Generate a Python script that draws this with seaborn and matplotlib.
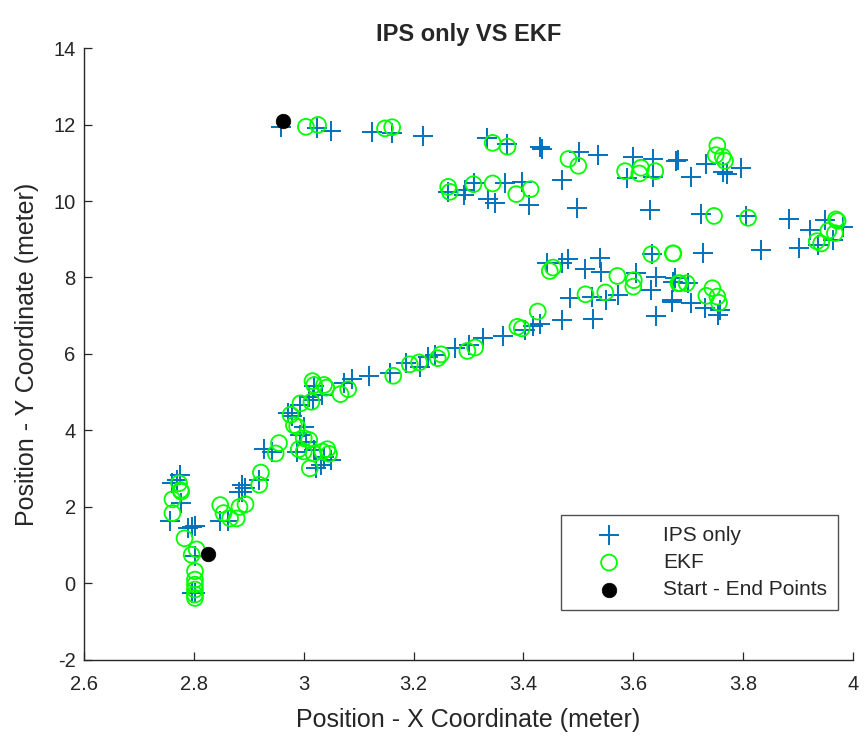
import matplotlib
matplotlib.use("Agg")
import matplotlib.pyplot as plt
import seaborn as sns
import pandas as pd

# Position estimates from the indoor positioning system alone
ips_x = [2.958, 3.024, 3.050, 3.124, 3.161, 3.217, 3.333, 3.370, 3.430, 3.433,
         3.502, 3.536, 3.600, 3.635, 3.678, 3.588, 3.636, 3.682, 3.733, 3.705,
         3.764, 3.770, 3.796, 3.263, 3.294, 3.291, 3.310, 3.366, 3.336, 3.348,
         3.397, 3.410, 3.471, 3.497, 3.630, 3.724, 3.806, 3.883, 3.922, 3.949,
         3.982, 3.964, 3.937, 3.832, 3.902, 3.727, 3.442, 3.470, 3.482, 3.512,
         3.539, 3.542, 3.605, 3.642, 3.633, 3.634, 3.676, 3.670, 3.642, 3.485,
         3.524, 3.573, 3.551, 3.527, 3.470, 3.430, 3.403, 3.418, 3.363, 3.327,
         3.300, 3.275, 3.239, 3.227, 3.187, 3.212, 3.157, 3.673, 3.700, 3.670,
         3.705, 3.730, 3.758, 3.754, 3.119, 3.088, 3.073, 3.019, 3.034, 3.010,
         2.993, 3.016, 2.971, 2.978, 3.000, 2.994, 3.004, 2.988, 3.019, 3.037,
         3.049, 3.031, 3.022, 2.928, 2.942, 2.919, 2.888, 2.882, 2.770, 2.761,
         2.775, 2.777, 2.757, 2.796, 2.802, 2.790, 2.802, 2.802, 2.796, 2.848,
         2.863, 2.893, 2.887]
ips_y = [11.94, 11.90, 11.83, 11.80, 11.78, 11.70, 11.64, 11.49, 11.42, 11.35,
         11.27, 11.20, 11.16, 11.09, 11.05, 10.59, 10.64, 11.07, 10.98, 10.64,
         10.77, 10.71, 10.87, 10.24, 10.30, 10.16, 10.46, 10.46, 10.04, 9.94,
         10.50, 9.90, 10.55, 9.81, 9.76, 9.66, 9.61, 9.53, 9.24, 9.50,
         9.33, 8.98, 8.85, 8.72, 8.78, 8.63, 8.37, 8.37, 8.48, 8.21,
         8.50, 8.15, 8.11, 8.02, 7.67, 8.61, 7.98, 7.37, 6.99, 7.46,
         7.50, 7.54, 7.41, 6.91, 6.89, 6.78, 6.63, 6.73, 6.47, 6.41,
         6.24, 6.15, 5.97, 5.93, 5.76, 5.67, 5.50, 7.89, 7.85, 7.41,
         7.34, 7.19, 7.15, 7.02, 5.42, 5.34, 5.25, 5.15, 4.93, 4.88,
         4.67, 4.80, 4.45, 4.37, 4.10, 3.88, 3.71, 3.45, 3.49, 3.31,
         3.23, 3.10, 3.01, 3.51, 3.45, 2.71, 2.58, 2.40, 2.71, 2.62,
         2.84, 2.11, 1.64, 1.47, 1.50, 1.44, 0.72, -0.24, -0.24, 1.62,
         1.64, 2.49, 2.40]

# Extended Kalman filter estimates
ekf_x = [3.004, 3.026, 3.148, 3.161, 3.344, 3.371, 3.482, 3.500, 3.585, 3.614,
         3.611, 3.640, 3.263, 3.266, 3.309, 3.344, 3.387, 3.413, 3.753, 3.750,
         3.763, 3.767, 3.747, 3.809, 3.969, 3.972, 3.955, 3.967, 3.934, 3.942,
         3.673, 3.448, 3.454, 3.571, 3.601, 3.600, 3.633, 3.672, 3.682, 3.513,
         3.549, 3.426, 3.389, 3.397, 3.312, 3.298, 3.250, 3.244, 3.210, 3.193,
         3.163, 3.685, 3.697, 3.744, 3.733, 3.753, 3.756, 3.067, 3.081, 3.016,
         3.019, 3.037, 3.041, 3.014, 2.994, 2.976, 2.982, 2.988, 3.000, 3.010,
         2.991, 3.000, 3.018, 3.034, 3.043, 3.046, 3.011, 2.955, 2.949, 2.922,
         2.919, 2.773, 2.776, 2.777, 2.761, 2.761, 2.783, 2.805, 2.796, 2.802,
         2.802, 2.802, 2.802, 2.802, 2.802, 2.848, 2.854, 2.866, 2.878, 2.883,
         2.894]
ekf_y = [11.94, 11.99, 11.90, 11.93, 11.52, 11.42, 11.10, 10.92, 10.78, 10.87,
         10.72, 10.78, 10.37, 10.24, 10.44, 10.46, 10.18, 10.31, 11.45, 11.20,
         11.16, 11.05, 9.61, 9.56, 9.52, 9.48, 9.22, 9.16, 8.95, 8.89,
         8.63, 8.17, 8.26, 8.04, 7.93, 7.76, 8.61, 8.63, 7.85, 7.56,
         7.61, 7.11, 6.71, 6.67, 6.17, 6.08, 5.99, 5.89, 5.78, 5.73,
         5.43, 7.85, 7.85, 7.72, 7.52, 7.50, 7.34, 4.95, 5.08, 5.29,
         5.19, 5.19, 5.12, 4.75, 4.71, 4.41, 4.14, 4.10, 3.80, 3.75,
         3.51, 3.45, 3.40, 3.45, 3.51, 3.39, 3.01, 3.67, 3.40, 2.90,
         2.58, 2.62, 2.44, 2.40, 2.20, 1.84, 1.18, 0.89, 0.75, 0.32,
         0.10, -0.03, -0.16, -0.29, -0.38, 2.05, 1.84, 1.70, 1.70, 2.00,
         2.07]

# First and last positions of the walk
se_x = [2.962, 2.825]
se_y = [12.09, 0.76]

ips = pd.DataFrame({"x": ips_x, "y": ips_y})
ekf = pd.DataFrame({"x": ekf_x, "y": ekf_y})
se = pd.DataFrame({"x": se_x, "y": se_y})

sns.set_theme(style="white")
plt.rcParams["font.family"] = ["Liberation Sans", "DejaVu Sans"]
plt.rcParams["axes.unicode_minus"] = False

fig = plt.figure(figsize=(8.66, 7.39), dpi=100)
ax = fig.add_axes([0.097, 0.107, 0.888, 0.828])

sns.scatterplot(data=ips, x="x", y="y", ax=ax, marker="+", s=190,
                color="#0072BD", linewidth=1.4, label="IPS only", zorder=2)
sns.scatterplot(data=ekf, x="x", y="y", ax=ax, marker="o", s=130,
                facecolors="none", edgecolor="#00FF00", linewidth=1.3,
                label="EKF", zorder=3)
sns.scatterplot(data=se, x="x", y="y", ax=ax, marker="o", s=110,
                color="black", edgecolor="black", linewidth=0.5,
                label="Start - End Points", zorder=4)

ax.set_xlim(2.6, 4.0)
ax.set_ylim(-2, 14)
ax.set_xticks([2.6, 2.8, 3.0, 3.2, 3.4, 3.6, 3.8, 4.0])
ax.set_xticklabels(["2.6", "2.8", "3", "3.2", "3.4", "3.6", "3.8", "4"])
ax.set_yticks(list(range(-2, 15, 2)))

for side in ("top", "right"):
    ax.spines[side].set_visible(False)
for side in ("left", "bottom"):
    ax.spines[side].set_color("#262626")
    ax.spines[side].set_linewidth(1.0)
ax.tick_params(axis="both", direction="in", length=6, width=0.9,
               color="#262626", labelsize=14.5, labelcolor="#262626",
               bottom=True, left=True)
ax.tick_params(axis="x", pad=11)
ax.tick_params(axis="y", pad=6)

ax.set_xlabel("Position - X Coordinate (meter)", fontsize=18, color="#262626",
              labelpad=10)
ax.set_ylabel("Position - Y Coordinate (meter)", fontsize=18, color="#262626",
              labelpad=10)
ax.set_title("IPS only VS EKF", fontsize=17, fontweight="bold", pad=5)

leg = ax.legend(loc="lower right", bbox_to_anchor=(0.98, 0.082), fontsize=15,
                frameon=True, fancybox=False, edgecolor="#262626",
                borderpad=0.5, labelspacing=0.4, handletextpad=0.8,
                handlelength=3.6, borderaxespad=0)
leg.get_frame().set_linewidth(1.0)

fig.savefig("out.png", dpi=100, facecolor="white")
